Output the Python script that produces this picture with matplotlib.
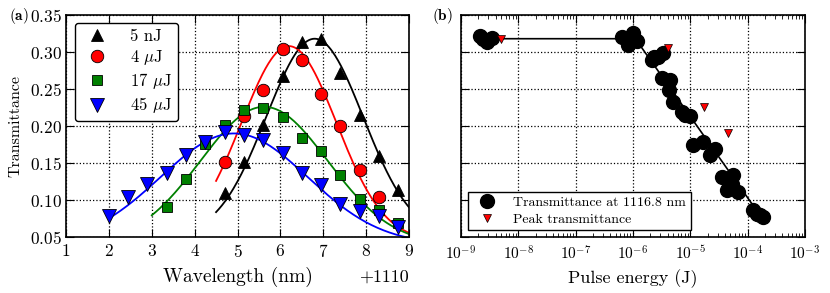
import numpy as np
import matplotlib
matplotlib.use("Agg")
import matplotlib.pyplot as plt
from matplotlib.ticker import NullFormatter

plt.rcParams['font.family'] = 'serif'
plt.rcParams['font.serif'] = ['cmr10', 'DejaVu Serif']
plt.rcParams['mathtext.fontset'] = 'cm'
plt.rcParams['axes.formatter.use_mathtext'] = True
plt.rcParams['axes.unicode_minus'] = False

# (a) spectra, wavelength offset from 1110 nm
wl = np.array([2.0, 2.45, 2.9, 3.35, 3.8, 4.25, 4.7, 5.15, 5.6, 6.05,
               6.5, 6.95, 7.4, 7.85, 8.3, 8.75])
t_5nJ = [0.109, 0.152, 0.201, 0.267, 0.313, 0.317, 0.272, 0.215, 0.159, 0.113]
t_4uJ = [0.151, 0.213, 0.249, 0.304, 0.289, 0.243, 0.200, 0.140, 0.104]
t_17uJ = [0.090, 0.128, 0.176, 0.201, 0.221, 0.225, 0.212, 0.184, 0.166, 0.134,
          0.101, 0.086, 0.069]
t_45uJ = [0.079, 0.104, 0.122, 0.137, 0.161, 0.179, 0.192, 0.188, 0.181, 0.163,
          0.136, 0.120, 0.095, 0.085, 0.078, 0.064]

# gaussian fit parameters: center, amplitude, offset, 2*sigma^2, start
fit_center = [6.8, 6.2, 5.62, 4.92]
fit_amp = [0.268, 0.263, 0.186, 0.150]
fit_off = [0.05, 0.045, 0.04, 0.04]
fit_w = [2.55, 2.45, 4.42, 5.89]
fit_start = [4.5, 4.5, 3.0, 2.0]

# (b) transmittance vs pulse energy
energy = 10 ** np.array([-8.669, -8.610, -8.552, -8.465, -6.198, -6.081, -5.994,
                         -5.936, -5.674, -5.628, -5.558, -5.471, -5.500, -5.355,
                         -5.372, -5.297, -5.151, -5.093, -5.006, -4.948, -4.773,
                         -4.657, -4.570, -4.453, -4.250, -4.366, -4.279, -4.163,
                         -3.901, -3.843, -3.785, -3.727])
trans = [0.3216, 0.3171, 0.3139, 0.3184, 0.3198, 0.3094, 0.3252, 0.3153, 0.2891,
         0.2936, 0.2936, 0.2981, 0.2643, 0.2621, 0.2485, 0.2327, 0.2192, 0.2147,
         0.2134, 0.1741, 0.1786, 0.1606, 0.1696, 0.1313, 0.1335, 0.1132, 0.1222,
         0.1110, 0.0862, 0.0817, 0.0794, 0.0772]
line_e = [2.1e-9, 1.1e-6, 1.8e-4]
line_t = [0.318, 0.318, 0.075]
peak_e = [5e-9, 4e-6, 1.7e-5, 4.5e-5]
peak_t = [0.318, 0.305, 0.226, 0.191]

fig = plt.figure(figsize=(8.3, 2.93), dpi=100)
ax1 = fig.add_axes([0.0795, 0.191, 0.4133, 0.7577])
ax2 = fig.add_axes([0.5554, 0.191, 0.4145, 0.7577])

colors = ['black', 'red', 'green', 'blue']
markers = ['^', 'o', 's', 'v']
sizes = [8.5, 9, 6.5, 9.5]
labels = ['5 nJ', r'4 $\mu$J', r'17 $\mu$J', r'45 $\mu$J']
data = [(wl[6:], t_5nJ), (wl[6:15], t_4uJ), (wl[3:], t_17uJ), (wl, t_45uJ)]

for i in range(4):
    x, y = data[i]
    ax1.plot(x, y, linestyle='none', marker=markers[i], color=colors[i], ms=sizes[i],
             mec='black', mew=0.6, label=labels[i], zorder=3)
    xf = np.linspace(fit_start[i], 9, 200)
    yf = fit_amp[i] * np.exp(-(xf - fit_center[i]) ** 2 / fit_w[i]) + fit_off[i]
    ax1.plot(xf, yf, color=colors[i], lw=1.3, zorder=2)

ax1.set_xlim(1, 9)
ax1.set_ylim(0.05, 0.35)
ax1.set_xticks(np.arange(1, 10))
ax1.set_yticks(np.arange(0.05, 0.351, 0.05))
ax1.set_xlabel('Wavelength (nm)', fontsize=14, labelpad=5)
ax1.set_ylabel('Transmittance', fontsize=11.5, labelpad=5)
leg = ax1.legend(loc='upper left', numpoints=1, fontsize=12, handletextpad=1.0,
                 borderpad=0.35, labelspacing=0.25, fancybox=True,
                 bbox_to_anchor=(0.025, 0.965), borderaxespad=0)
leg.get_frame().set_edgecolor('black')
leg.get_frame().set_linewidth(1.0)
leg.get_frame().set_alpha(1)
fig.text(0.4928, 0.054, '+1110', fontsize=13, ha='right', va='center')

ax2.plot(line_e, line_t, color='black', lw=1.2, zorder=2)
ax2.plot(energy, trans, linestyle='none', marker='o', color='black', ms=10,
         label='Transmittance at 1116.8 nm', zorder=3)
ax2.plot(peak_e, peak_t, linestyle='none', marker='v', color='red', mec='black',
         mew=0.5, ms=6, label='Peak transmittance', zorder=4)
ax2.set_xscale('log')
ax2.set_xlim(1e-9, 1e-3)
ax2.set_ylim(0.05, 0.35)
ax2.set_yticks(np.arange(0.05, 0.351, 0.05))
ax2.yaxis.set_major_formatter(NullFormatter())
ax2.set_xlabel('Pulse energy (J)', fontsize=13, labelpad=5)
leg2 = ax2.legend(loc='lower left', numpoints=1, fontsize=10, handletextpad=0.9,
                  borderpad=0.35, labelspacing=0.25, fancybox=False,
                  bbox_to_anchor=(0.02, 0.03), borderaxespad=0)
leg2.get_frame().set_edgecolor('black')
leg2.get_frame().set_linewidth(1.0)
leg2.get_frame().set_alpha(1)

for ax in (ax1, ax2):
    ax.grid(True, linestyle=':', color='black', linewidth=0.9)
    ax.tick_params(which='both', direction='in', top=True, right=True)
    ax.tick_params(which='major', length=6, width=0.8)
    ax.tick_params(which='minor', length=3, width=0.6)
    for s in ax.spines.values():
        s.set_linewidth(1.2)
ax1.tick_params(axis='x', labelsize=12.5, pad=4)
ax1.tick_params(axis='y', labelsize=12.5, pad=3)
ax2.tick_params(axis='x', labelsize=11, pad=5)

fig.text(0.011, 0.945, r'$\mathbf{(a)}$', fontsize=11, va='center')
fig.text(0.52, 0.945, r'$\mathbf{(b)}$', fontsize=11, va='center')

fig.savefig('out.png', dpi=100)
